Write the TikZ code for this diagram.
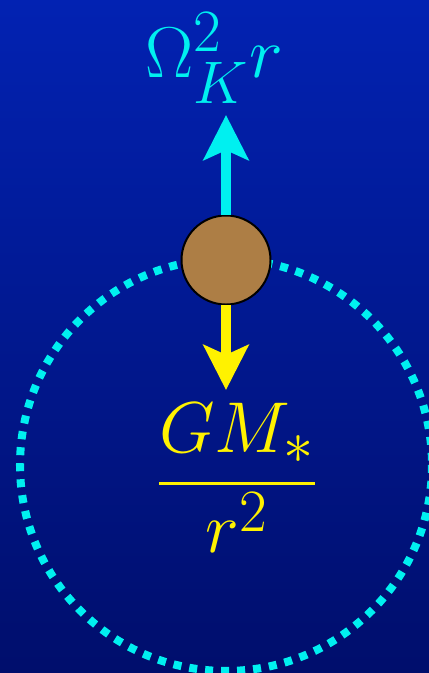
\documentclass[tikz,border=0pt]{standalone}
\usepackage{amsmath,amssymb}
\usetikzlibrary{arrows.meta}
\definecolor{skytop}{RGB}{2,34,178}
\definecolor{skybottom}{RGB}{0,14,108}
\definecolor{orbitcyan}{RGB}{0,240,240}
\definecolor{planetbrown}{RGB}{173,126,69}

\begin{document}
\begin{tikzpicture}[x=0.05cm,y=-0.05cm,line cap=butt,
  force/.style={line width=15.6pt,-{Stealth[length=64pt,width=64pt,inset=14pt]}},
  forcetext/.style={font=\Huge,scale=4.12,inner sep=0pt}]
  % --- Sfondo ---
  \shade[top color=skytop,bottom color=skybottom] (0,0) rectangle (429,673);
  \useasboundingbox (0,0) rectangle (429,673);

  % --- Orbita tratteggiata ---
  \draw[orbitcyan,line width=11.4pt,dash pattern=on 11.4pt off 11.4pt]
    (226,465) circle (206);

  % --- Pianeta ---
  \node[circle,draw=black,fill=planetbrown,line width=2.8pt,
        minimum size=4.45cm,inner sep=0pt] (planet) at (226,260) {};

  % --- Forze ---
  \coordinate (centrifugal) at (226,115);
  \coordinate (gravity) at (226,390);
  \draw[force,orbitcyan] (planet.north) -- (centrifugal);
  \draw[force,yellow] (planet.south) -- (gravity);

  \node[forcetext,text=orbitcyan] (omegaK) at (214,58) {$\Omega_K^2 r$};
  \node[forcetext,text=yellow] (gmr) at (237,478) {$\dfrac{GM_*}{r^2}$};
\end{tikzpicture}
\end{document}
